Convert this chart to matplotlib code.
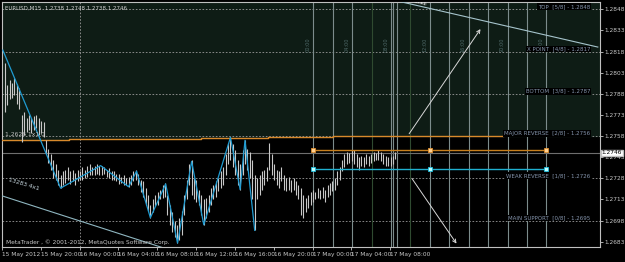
import numpy as np
import matplotlib
matplotlib.use('Agg')
import matplotlib.pyplot as plt

# EURUSD M15 bars (bar index 0 = 15 May 16:00)
highs = [1.2810, 1.2794, 1.2798, 1.2796, 1.2799, 1.2795, 1.2792, 1.2773, 1.2775, 1.2771,
         1.2773, 1.2771, 1.2772, 1.2773, 1.2771, 1.2769, 1.2768, 1.2755, 1.2749, 1.2745,
         1.2741, 1.2738, 1.2734, 1.2730, 1.2733, 1.2734, 1.2736, 1.2733, 1.2734, 1.2732,
         1.2734, 1.2733, 1.2736, 1.2734, 1.2737, 1.2738, 1.2736, 1.2737, 1.2738, 1.2737,
         1.2737, 1.2736, 1.2734, 1.2735, 1.2733, 1.2733, 1.2731, 1.2731, 1.2729, 1.2730,
         1.2728, 1.2729, 1.2730, 1.2733, 1.2734, 1.2731, 1.2727, 1.2726, 1.2721, 1.2716,
         1.2709, 1.2713, 1.2716, 1.2718, 1.2720, 1.2723, 1.2725, 1.2716, 1.2709, 1.2704,
         1.2698, 1.2695, 1.2700, 1.2705, 1.2716, 1.2727, 1.2738, 1.2741, 1.2728, 1.2727,
         1.2720, 1.2716, 1.2713, 1.2714, 1.2716, 1.2721, 1.2723, 1.2726, 1.2728, 1.2733,
         1.2736, 1.2745, 1.2753, 1.2757, 1.2752, 1.2748, 1.2741, 1.2738, 1.2748, 1.2755,
         1.2749, 1.2747, 1.2741, 1.2730, 1.2728, 1.2730, 1.2733, 1.2734, 1.2736, 1.2753,
         1.2745, 1.2738, 1.2734, 1.2733, 1.2736, 1.2730, 1.2728, 1.2729, 1.2727, 1.2728,
         1.2726, 1.2723, 1.2721, 1.2716, 1.2714, 1.2716, 1.2718, 1.2720, 1.2718, 1.2721,
         1.2720, 1.2722, 1.2720, 1.2723, 1.2725, 1.2726, 1.2728, 1.2733, 1.2736, 1.2741,
         1.2745, 1.2747, 1.2746, 1.2748, 1.2748, 1.2745, 1.2743, 1.2744, 1.2743, 1.2745,
         1.2744, 1.2745, 1.2747, 1.2746, 1.2748, 1.2747, 1.2745, 1.2744, 1.2743, 1.2743,
         1.2744, 1.2747]
lows = [1.2775, 1.2780, 1.2784, 1.2785, 1.2787, 1.2781, 1.2777, 1.2754, 1.2759, 1.2761,
        1.2762, 1.2760, 1.2762, 1.2764, 1.2759, 1.2760, 1.2757, 1.2745, 1.2739, 1.2734,
        1.2728, 1.2727, 1.2723, 1.2721, 1.2723, 1.2725, 1.2727, 1.2724, 1.2726, 1.2723,
        1.2726, 1.2727, 1.2727, 1.2728, 1.2729, 1.2730, 1.2730, 1.2730, 1.2731, 1.2730,
        1.2730, 1.2731, 1.2729, 1.2728, 1.2727, 1.2727, 1.2726, 1.2724, 1.2725, 1.2723,
        1.2723, 1.2722, 1.2723, 1.2726, 1.2727, 1.2723, 1.2718, 1.2715, 1.2709, 1.2705,
        1.2700, 1.2704, 1.2708, 1.2709, 1.2713, 1.2714, 1.2715, 1.2702, 1.2695, 1.2690,
        1.2686, 1.2682, 1.2684, 1.2688, 1.2702, 1.2713, 1.2723, 1.2716, 1.2713, 1.2711,
        1.2709, 1.2702, 1.2695, 1.2700, 1.2704, 1.2709, 1.2713, 1.2715, 1.2719, 1.2721,
        1.2723, 1.2730, 1.2738, 1.2741, 1.2736, 1.2730, 1.2723, 1.2720, 1.2730, 1.2738,
        1.2734, 1.2728, 1.2713, 1.2691, 1.2713, 1.2716, 1.2720, 1.2723, 1.2726, 1.2734,
        1.2730, 1.2727, 1.2723, 1.2721, 1.2726, 1.2720, 1.2719, 1.2720, 1.2718, 1.2720,
        1.2716, 1.2713, 1.2702, 1.2700, 1.2704, 1.2707, 1.2709, 1.2711, 1.2713, 1.2714,
        1.2713, 1.2714, 1.2711, 1.2715, 1.2716, 1.2719, 1.2720, 1.2723, 1.2727, 1.2733,
        1.2736, 1.2738, 1.2739, 1.2740, 1.2738, 1.2736, 1.2734, 1.2737, 1.2736, 1.2738,
        1.2737, 1.2739, 1.2740, 1.2741, 1.2741, 1.2740, 1.2738, 1.2737, 1.2737, 1.2737,
        1.2738, 1.2742]

# zigzag vertices (bar index, price)
zz_x = [-0.8, 23, 39.5, 51, 54.3, 60, 66.3, 71.2, 77, 82, 93, 97, 99, 103]
zz_p = [1.2819, 1.2721, 1.2737, 1.2722, 1.2733, 1.2700, 1.2724, 1.2682, 1.2740, 1.2695,
        1.2757, 1.2720, 1.2755, 1.2691]

# stepped orange line
step_x = [-1, 26.3, 53.9, 80.7, 108.6, 135.4, 163, 205.3]
step_p = [1.27553, 1.27557, 1.27561, 1.27566, 1.27571, 1.27577, 1.27582, 1.27582]

bid = 1.2746
orange_lvl = 1.27481
cyan_lvl = 1.27348
box_x = [127.2, 175.2, 223.2]

vlines_x = [127.2 + 8 * k for k in range(13)] + [160.1, 161.7]
vline_text = ['00:00', '04:00', '08:00', '12:00', '16:00', '20:00', '00:00']
vline_text_x = [125, 141, 157, 173, 189, 205, 221]

murrey_p = [1.2848, 1.2818, 1.2788, 1.2758, 1.2728, 1.2698]
murrey_txt = ['TOP  [5/8] - 1.2848', 'X POINT  [4/8] - 1.2817', 'BOTTOM  [3/8] - 1.2787',
              'MAJOR REVERSE  [2/8] - 1.2756', 'WEAK REVERSE  [1/8] - 1.2726',
              'MAIN SUPPORT  [0/8] - 1.2695']

gann_low_x = [-2, 70]
gann_low_p = [1.27160, 1.26760]
gann_up_x = [160.1, 244.4]
gann_up_p = [1.28546, 1.28212]

arrow_up = [(166.0, 1.2758), (196.7, 1.28356)]
arrow_dn = [(167.1, 1.27296), (186.8, 1.26800)]

time_labels = ['15 May 2012', '15 May 20:00', '16 May 00:00', '16 May 04:00', '16 May 08:00',
               '16 May 12:00', '16 May 16:00', '16 May 20:00', '17 May 00:00', '17 May 04:00',
               '17 May 08:00']
price_ticks = [1.2848, 1.2833, 1.2818, 1.2803, 1.2788, 1.2773, 1.2758, 1.2743, 1.2728,
               1.2713, 1.2698, 1.2683]

fig = plt.figure(figsize=(6.25, 2.62), dpi=100, facecolor='black')
ax = fig.add_axes([2 / 625, 15 / 262, 598 / 625, 245 / 262], facecolor='black')
ax.set_xlim(-0.82, 245.3)
ax.set_ylim(1.26792, 1.28532)

# green zone above the orange line
ax.fill_between(step_x + [246], step_p + [step_p[-1]], 1.2860, step='post',
                color='#0e1c15', zorder=0)

for p in murrey_p:
    ax.axhline(p, color='#9a9a9a', lw=0.6, ls=(0, (2, 2)), zorder=1)
for gx in [31.2, 127.2]:
    ax.axvline(gx, color='#9a9a9a', lw=0.6, ls=(0, (2, 2)), zorder=1)

for k, vx in enumerate(vlines_x):
    c = '#2f4a30' if k in (3, 5) else '#7c8c8c'
    ax.axvline(vx, color=c, lw=0.8, zorder=1)
for t, tx in zip(vline_text, vline_text_x):
    ax.text(tx, 1.2823, t, rotation=90, fontsize=3.6, color='#4f6a6a', ha='center', va='center')

ax.step(step_x, step_p, where='post', color='#d8892b', lw=1, zorder=3)
ax.axhline(bid, color='#6e6e6e', lw=0.8, zorder=2)

ax.vlines(np.arange(len(highs)), lows, highs, color='#c8c8c8', lw=0.8, zorder=4)
ax.plot(zz_x, zz_p, color='#1f9bd1', lw=0.9, zorder=5)

ax.plot([box_x[0], box_x[-1]], [orange_lvl] * 2, color='#c8801e', lw=1, zorder=5)
ax.plot([box_x[0], box_x[-1]], [cyan_lvl] * 2, color='#1fb0d0', lw=1, zorder=5)
ax.plot(box_x, [orange_lvl] * 3, 's', ms=3, mfc='#ffd090', mec='#e09030', mew=0.6, zorder=6)
ax.plot(box_x, [cyan_lvl] * 3, 's', ms=3, mfc='#c0ffff', mec='#20c0e0', mew=0.6, zorder=6)

ax.plot(gann_low_x, gann_low_p, color='#8fb6c0', lw=0.8, zorder=3)
ax.plot(gann_up_x, gann_up_p, color='#a6c4cc', lw=0.8, zorder=3)
ax.text(1, 1.27185, '13283 4x1', rotation=-17, fontsize=4.3, color='#c8d8e0', ha='left', va='bottom')
ax.text(168, 1.28540, '1x1]', rotation=-12, fontsize=4.3, color='white', ha='left', va='center',
        bbox=dict(facecolor='#d0d0d0', edgecolor='none', pad=0.5, alpha=0.3), clip_on=True)
ax.text(0.2, 1.27575, '1.2626 1x1 0', fontsize=4.3, color='#c0c0c0', ha='left', va='bottom', zorder=6)

for a in (arrow_up, arrow_dn):
    ax.annotate('', xy=a[1], xytext=a[0],
                arrowprops=dict(arrowstyle='->', color='#d8d8d8', lw=0.7, mutation_scale=6))

for p, t in zip(murrey_p, murrey_txt):
    ax.text(241.3, p + 0.00018, t, fontsize=4.0, color='#8494ac', ha='right', va='center',
            bbox=dict(facecolor='black', edgecolor='none', pad=0.6), zorder=7)

ax.text(0.005, 0.985, 'EURUSD,M15  1.2738 1.2748 1.2738 1.2746', transform=ax.transAxes,
        fontsize=4.0, color='#d0d0d0', ha='left', va='top')
ax.text(0.3, 1.26803, 'MetaTrader , \u00a9 2001-2012, MetaQuotes Software Corp.',
        fontsize=4.2, color='#c8c8c8', ha='left', va='bottom', zorder=7)

# axes and ticks
ax.yaxis.tick_right()
ax.set_yticks(price_ticks)
ax.set_yticklabels([f'{p:.4f}' for p in price_ticks])
ax.set_xticks([16 * k - 1.15 for k in range(len(time_labels))])
ax.set_xticklabels(time_labels)
for lab in ax.get_xticklabels():
    lab.set_ha('left')
ax.tick_params(colors='#c8c8c8', labelsize=4.2, length=2, width=0.6, pad=1.5)
for s in ax.spines.values():
    s.set_color('#c0c0c0')
    s.set_linewidth(0.8)

ax.text(1.003, bid, '1.2746', transform=ax.get_yaxis_transform(), fontsize=4.2, color='black',
        ha='left', va='center', bbox=dict(facecolor='white', edgecolor='#c0c0c0', pad=0.5),
        clip_on=False, zorder=10)

fig.savefig('out.png', dpi=100, facecolor='black')
